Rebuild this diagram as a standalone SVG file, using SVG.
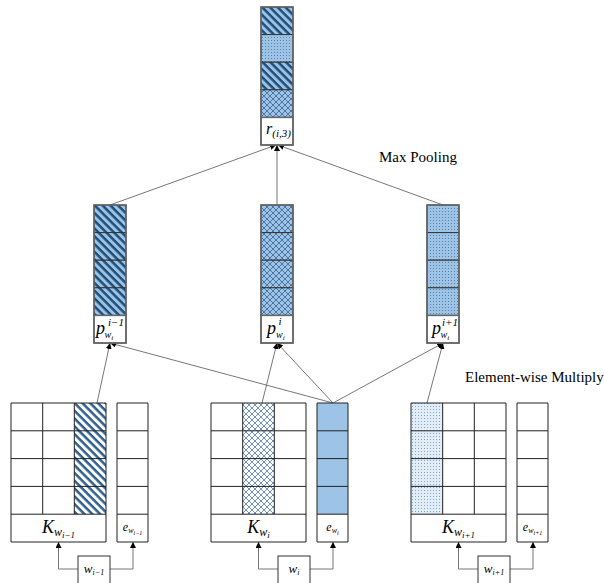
<svg xmlns="http://www.w3.org/2000/svg" width="604" height="583" viewBox="0 0 604 583">
<style>
.cell{stroke:#333;stroke-width:1;}
.outer{fill:none;stroke:#666;stroke-width:1.5;}
.lbl{fill:#fff;stroke:#666;stroke-width:1.5;}
.grid{fill:none;stroke:#222;stroke-width:1;}
.conn{fill:none;stroke:#777;stroke-width:1;}
.m{font-family:"Liberation Serif",serif;font-style:italic;fill:#000;}
.t{font-family:"Liberation Serif",serif;fill:#000;font-size:15px;}
</style>
<defs>
<pattern id="stripes" width="5.5" height="5.5" patternUnits="userSpaceOnUse" patternTransform="rotate(45)">
<rect width="5.5" height="5.5" fill="#9dc3e6"/><rect width="5.5" height="2.5" fill="#1f4e79"/>
</pattern>
<pattern id="stripesW" width="5.5" height="5.5" patternUnits="userSpaceOnUse" patternTransform="rotate(45)">
<rect width="5.5" height="5.5" fill="#fff"/><rect width="5.5" height="2.5" fill="#2e5f8f"/>
</pattern>
<pattern id="dots" width="3" height="3" patternUnits="userSpaceOnUse">
<rect width="3" height="3" fill="#9dc3e6"/><rect x="1" y="1" width="1" height="1" fill="#5b82ab"/>
</pattern>
<pattern id="dotsW" width="3" height="3" patternUnits="userSpaceOnUse">
<rect width="3" height="3" fill="#e3edf8"/><rect x="1" y="1" width="1" height="1" fill="#7fa6cf"/>
</pattern>
<pattern id="cross" width="6" height="6" patternUnits="userSpaceOnUse">
<rect width="6" height="6" fill="#9dc3e6"/><path d="M0 0L6 6M6 0L0 6" stroke="#3f6d9c" stroke-width="0.9"/>
</pattern>
<pattern id="crossW" width="6" height="6" patternUnits="userSpaceOnUse">
<rect width="6" height="6" fill="#fff"/><path d="M0 0L6 6M6 0L0 6" stroke="#5b87b5" stroke-width="0.9"/>
</pattern>
<marker id="arr" viewBox="0 0 10 10" refX="10" refY="5" markerWidth="6" markerHeight="6" orient="auto" markerUnits="userSpaceOnUse">
<path d="M0 0L10 5L0 10z" fill="#000"/>
</marker>
</defs>
<rect width="604" height="583" fill="#fff"/>

<g id="connectors">
<line class="conn" x1="110" y1="205" x2="276" y2="145" marker-end="url(#arr)"/>
<line class="conn" x1="277" y1="205" x2="277" y2="145" marker-end="url(#arr)"/>
<line class="conn" x1="443" y1="205" x2="278" y2="145" marker-end="url(#arr)"/>
<line class="conn" x1="97" y1="403" x2="110" y2="343" marker-end="url(#arr)"/>
<line class="conn" x1="333" y1="403" x2="110" y2="343" marker-end="url(#arr)"/>
<line class="conn" x1="262" y1="403" x2="277" y2="343" marker-end="url(#arr)"/>
<line class="conn" x1="333" y1="403" x2="277" y2="343" marker-end="url(#arr)"/>
<line class="conn" x1="427" y1="403" x2="443" y2="343" marker-end="url(#arr)"/>
<line class="conn" x1="333" y1="403" x2="443" y2="343" marker-end="url(#arr)"/>
<polyline class="conn" points="78,569 58.5,569 58.5,542" marker-end="url(#arr)"/>
<polyline class="conn" points="110,569 133,569 133,542" marker-end="url(#arr)"/>
<polyline class="conn" points="278,569 258.5,569 258.5,542" marker-end="url(#arr)"/>
<polyline class="conn" points="310,569 333,569 333,542" marker-end="url(#arr)"/>
<polyline class="conn" points="478,569 458.5,569 458.5,542" marker-end="url(#arr)"/>
<polyline class="conn" points="510,569 533,569 533,542" marker-end="url(#arr)"/>
</g>

<g id="r-stack">
<rect class="cell" x="261" y="7" width="32" height="27.6" fill="url(#stripes)"/>
<rect class="cell" x="261" y="34.6" width="32" height="27.6" fill="url(#dots)"/>
<rect class="cell" x="261" y="62.2" width="32" height="27.6" fill="url(#stripes)"/>
<rect class="cell" x="261" y="89.8" width="32" height="27.6" fill="url(#cross)"/>
<rect class="lbl" x="261" y="117.4" width="32" height="27.6"/>
<rect class="outer" x="261" y="7" width="32" height="138"/>
<text class="m" x="266" y="134"><tspan font-size="16">r</tspan><tspan font-size="11" dy="3">(i,3)</tspan></text>
</g>

<g id="p-left">
<rect class="cell" x="94" y="205" width="32" height="27.6" fill="url(#stripes)"/>
<rect class="cell" x="94" y="232.6" width="32" height="27.6" fill="url(#stripes)"/>
<rect class="cell" x="94" y="260.2" width="32" height="27.6" fill="url(#stripes)"/>
<rect class="cell" x="94" y="287.8" width="32" height="27.6" fill="url(#stripes)"/>
<rect class="lbl" x="94" y="315.4" width="32" height="27.6"/>
<rect class="outer" x="94" y="205" width="32" height="138"/>
<text class="m" x="96" y="334" font-size="18">p</text>
<text class="m" x="108" y="326" font-size="11">i−1</text>
<text class="m" x="104.5" y="338" font-size="10">w<tspan font-size="7" dy="2">i</tspan></text>
</g>

<g id="p-center">
<rect class="cell" x="261" y="205" width="32" height="27.6" fill="url(#cross)"/>
<rect class="cell" x="261" y="232.6" width="32" height="27.6" fill="url(#cross)"/>
<rect class="cell" x="261" y="260.2" width="32" height="27.6" fill="url(#cross)"/>
<rect class="cell" x="261" y="287.8" width="32" height="27.6" fill="url(#cross)"/>
<rect class="lbl" x="261" y="315.4" width="32" height="27.6"/>
<rect class="outer" x="261" y="205" width="32" height="138"/>
<text class="m" x="267" y="334" font-size="18">p</text>
<text class="m" x="278.5" y="325" font-size="11">i</text>
<text class="m" x="276" y="338" font-size="10">w<tspan font-size="7" dy="2">i</tspan></text>
</g>

<g id="p-right">
<rect class="cell" x="427" y="205" width="32" height="27.6" fill="url(#dots)"/>
<rect class="cell" x="427" y="232.6" width="32" height="27.6" fill="url(#dots)"/>
<rect class="cell" x="427" y="260.2" width="32" height="27.6" fill="url(#dots)"/>
<rect class="cell" x="427" y="287.8" width="32" height="27.6" fill="url(#dots)"/>
<rect class="lbl" x="427" y="315.4" width="32" height="27.6"/>
<rect class="outer" x="427" y="205" width="32" height="138"/>
<text class="m" x="432" y="334" font-size="18">p</text>
<text class="m" x="442" y="326" font-size="11">i+1</text>
<text class="m" x="440.5" y="338" font-size="10">w<tspan font-size="7" dy="2">i</tspan></text>
</g>

<g id="K-left">
<rect x="74.3" y="403" width="31.7" height="111.2" fill="url(#stripesW)"/>
<path class="grid" d="M11 403H106V542H11Z M11 430.8H106 M11 458.6H106 M11 486.4H106 M11 514.2H106 M42.7 403V514.2 M74.3 403V514.2"/>
<text class="m" x="58.5" y="533" text-anchor="middle"><tspan font-size="18">K</tspan><tspan font-size="12" dy="3">w</tspan><tspan font-size="9" dy="2">i−1</tspan></text>
</g>
<g id="e-left">
<path class="grid" d="M117 403H148V542H117Z M117 430.8H148 M117 458.6H148 M117 486.4H148 M117 514.2H148"/>
<text class="m" x="132.5" y="531" text-anchor="middle"><tspan font-size="12">e</tspan><tspan font-size="8" dy="2">w</tspan><tspan font-size="6" dy="1.5">i−1</tspan></text>
</g>
<g id="w-left">
<rect x="78" y="556" width="32" height="32" fill="#fff" stroke="#333" stroke-width="1"/>
<text class="m" x="94" y="573" text-anchor="middle"><tspan font-size="13">w</tspan><tspan font-size="8" dy="2">i−1</tspan></text>
</g>

<g id="K-center">
<rect x="242.7" y="403" width="31.6" height="111.2" fill="url(#crossW)"/>
<path class="grid" d="M211 403H306V542H211Z M211 430.8H306 M211 458.6H306 M211 486.4H306 M211 514.2H306 M242.7 403V514.2 M274.3 403V514.2"/>
<text class="m" x="258.5" y="533" text-anchor="middle"><tspan font-size="18">K</tspan><tspan font-size="12" dy="3">w</tspan><tspan font-size="9" dy="2">i</tspan></text>
</g>
<g id="e-center">
<rect x="317" y="403" width="31" height="111.2" fill="#9dc3e6"/>
<path class="grid" d="M317 403H348V542H317Z M317 430.8H348 M317 458.6H348 M317 486.4H348 M317 514.2H348"/>
<text class="m" x="332.5" y="531" text-anchor="middle"><tspan font-size="12">e</tspan><tspan font-size="8" dy="2">w</tspan><tspan font-size="6" dy="1.5">i</tspan></text>
</g>
<g id="w-center">
<rect x="278" y="556" width="32" height="32" fill="#fff" stroke="#333" stroke-width="1"/>
<text class="m" x="294" y="573" text-anchor="middle"><tspan font-size="13">w</tspan><tspan font-size="8" dy="2">i</tspan></text>
</g>

<g id="K-right">
<rect x="411" y="403" width="31.7" height="111.2" fill="url(#dotsW)"/>
<path class="grid" d="M411 403H506V542H411Z M411 430.8H506 M411 458.6H506 M411 486.4H506 M411 514.2H506 M442.7 403V514.2 M474.3 403V514.2"/>
<text class="m" x="458.5" y="533" text-anchor="middle"><tspan font-size="18">K</tspan><tspan font-size="12" dy="3">w</tspan><tspan font-size="9" dy="2">i+1</tspan></text>
</g>
<g id="e-right">
<path class="grid" d="M517 403H548V542H517Z M517 430.8H548 M517 458.6H548 M517 486.4H548 M517 514.2H548"/>
<text class="m" x="532.5" y="531" text-anchor="middle"><tspan font-size="12">e</tspan><tspan font-size="8" dy="2">w</tspan><tspan font-size="6" dy="1.5">i+1</tspan></text>
</g>
<g id="w-right">
<rect x="478" y="556" width="32" height="32" fill="#fff" stroke="#333" stroke-width="1"/>
<text class="m" x="494" y="573" text-anchor="middle"><tspan font-size="13">w</tspan><tspan font-size="8" dy="2">i+1</tspan></text>
</g>

<text class="t" x="379" y="162">Max Pooling</text>
<text class="t" x="465" y="382">Element-wise Multiply</text>
</svg>
